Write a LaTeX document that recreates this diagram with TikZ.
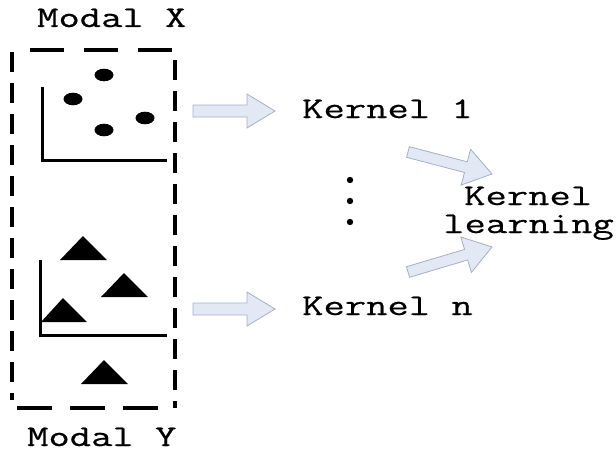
\documentclass[tikz,border=0pt]{standalone}
\usepackage{fontspec}
\newfontfamily\monofnt{Latin Modern Mono}[FakeStretch=1.38,FakeBold=0.6]
\usetikzlibrary{calc}
\definecolor{arrfill}{RGB}{226,233,245}
\definecolor{arrdraw}{RGB}{165,175,195}
\tikzset{
  lbl/.style={inner sep=0pt, anchor=base west, font=\monofnt\fontsize{30}{34}\selectfont},
  boxside/.style={line width=3.4pt},
  axis/.style={line width=3pt},
  dotpt/.style={fill=black},
  tri/.style={fill=black},
  blockarr/.style={fill=arrfill, draw=arrdraw, line width=0.8pt, line join=miter},
}
\newcommand{\blockarrow}[5]{% tail, tip, shaft half, head half, head length
  \draw[blockarr]
    ($(#1)!#3!90:(#2)$) -- ($($(#2)!#5!(#1)$)!#3!-90:(#1)$)
    -- ($($(#2)!#5!(#1)$)!#4!-90:(#1)$) -- (#2)
    -- ($($(#2)!#5!(#1)$)!#4!90:(#1)$)
    -- ($($(#2)!#5!(#1)$)!#3!90:(#1)$)
    -- ($(#1)!#3!-90:(#2)$) -- cycle;}
\begin{document}
\begin{tikzpicture}[x=1pt,y=-1pt]
\useasboundingbox (0,0) rectangle (616,452);
% dashed box
\draw[boxside, dash pattern=on 20pt off 11pt] (12,52) -- (12,400);
\draw[boxside, dash pattern=on 20pt off 11pt] (175,60) -- (175,408);
\draw[boxside, dash pattern=on 34pt off 20pt] (30,50) -- (172,50);
\draw[boxside, dash pattern=on 35pt off 18pt] (17,408) -- (160,408);
% labels
\node[lbl] (mx) at (37,27) {Modal X};
\node[lbl] (my) at (27,446) {Modal Y};
\node[lbl] (k1) at (302,118) {Kernel 1};
\node[lbl] (kn) at (302,315) {Kernel n};
\node[lbl] (kl1) at (464,205) {Kernel};
\node[lbl] (kl2) at (443,233) {learning};
% scatter X
\draw[axis] (42,87) -- (42,160) -- (167,160);
\fill[dotpt] (104,75) ellipse [x radius=9.5pt, y radius=6.3pt];
\fill[dotpt] (73,99) ellipse [x radius=9.5pt, y radius=6.3pt];
\fill[dotpt] (104,130) ellipse [x radius=9.5pt, y radius=6.3pt];
\fill[dotpt] (145,118) ellipse [x radius=9.5pt, y radius=6.3pt];
% scatter Y
\draw[axis] (40,260) -- (40,335) -- (167,335);
\fill[tri] (83,236) -- (107,260) -- (60,260) -- cycle;
\fill[tri] (124,273) -- (148,297) -- (101,297) -- cycle;
\fill[tri] (63,298) -- (87,322) -- (41,322) -- cycle;
\fill[tri] (104,360) -- (128,384) -- (81,384) -- cycle;
% vertical dots
\fill (350,180) circle (3.2pt);
\fill (350,201) circle (3.2pt);
\fill (350,222) circle (3.2pt);
% arrows
\coordinate (a1t) at (193,111); \coordinate (a1h) at (275,111);
\coordinate (a2t) at (193,309); \coordinate (a2h) at (275,309);
\coordinate (d1t) at (408,152); \coordinate (d1h) at (492,174);
\coordinate (d2t) at (408,272); \coordinate (d2h) at (492,247);
\blockarrow{a1t}{a1h}{6pt}{17pt}{28pt}
\blockarrow{a2t}{a2h}{6pt}{17pt}{28pt}
\blockarrow{d1t}{d1h}{5.5pt}{18.5pt}{27pt}
\blockarrow{d2t}{d2h}{5.5pt}{18.5pt}{27pt}
\end{tikzpicture}
\end{document}
